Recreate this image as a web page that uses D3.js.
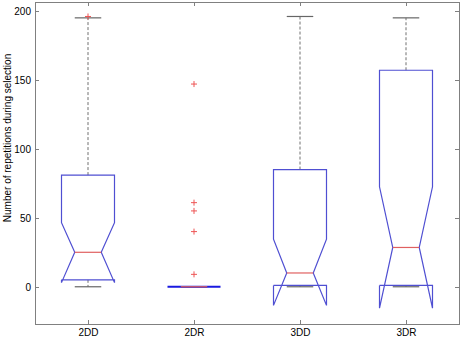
<!DOCTYPE html>
<html>
<head>
  <meta charset="UTF-8">
  <script src="https://cdn.jsdelivr.net/npm/d3@7"></script>
  <style>
      * { box-sizing: border-box; }
      html, body { margin: 0; padding: 0; background: #fff; }
      text { font-family: "Liberation Sans", Arial, sans-serif; font-size: 10px; fill: #000; }
      .frame { fill: none; stroke: #808080; stroke-width: 1px; }
      .box { fill: none; stroke: #4f4fd2; stroke-width: 1.2px; }
      .median { stroke: #e06060; stroke-width: 1.2px; }
      .whisker { stroke: #707070; stroke-width: 1px; stroke-dasharray: 3,2; }
      .cap { stroke: #666; stroke-width: 1.2px; }
      .outlier { stroke: #ee5555; stroke-width: 1px; }
  </style>
</head>
<body>
<div id="root"></div>
<script>

  // box statistics
  var categories = ["2DD", "2DR", "3DD", "3DR"];
  var q1 = [5, 0, 1, 1];
  var median = [25, 0, 10, 28.5];
  var q3 = [81, 0, 85, 157];
  var notchLo = [3, 0, -13.5, -15.5];
  var notchHi = [46.5, 0, 34.5, 72.5];
  var whiskerLo = [0, 0, 0, 0];
  var whiskerHi = [195, 0, 196, 195];
  var outliers = [[196], [147, 61, 55, 40, 9], [], []];
  var yTicks = [0, 50, 100, 150, 200];

  var width = 460, height = 339;
  var plot = {left: 35, right: 459, top: 2, bottom: 324};

  var x = d3.scaleLinear().domain([0.5, 4.5]).range([plot.left, plot.right]);
  var y = d3.scaleLinear().domain([-27, 206.5]).range([plot.bottom, plot.top]);

  var svg = d3.select("#root").append("svg")
    .attr("width", width)
    .attr("height", height);

  // axis frame
  svg.append("rect")
    .attr("class", "frame")
    .attr("x", plot.left + 0.5)
    .attr("y", plot.top + 0.5)
    .attr("width", plot.right - plot.left)
    .attr("height", plot.bottom - plot.top);

  // inward ticks on all four sides
  var tickLen = 4;
  yTicks.forEach(function(t) {
    var yy = Math.round(y(t)) + 0.5;
    svg.append("line").attr("class", "frame")
      .attr("x1", plot.left).attr("x2", plot.left + tickLen).attr("y1", yy).attr("y2", yy);
    svg.append("line").attr("class", "frame")
      .attr("x1", plot.right - tickLen).attr("x2", plot.right).attr("y1", yy).attr("y2", yy);
    svg.append("text")
      .attr("x", plot.left - 4)
      .attr("y", yy)
      .attr("dy", "0.35em")
      .attr("text-anchor", "end")
      .text(t);
  });
  categories.forEach(function(c, i) {
    var xx = Math.round(x(i + 1)) + 0.5;
    svg.append("line").attr("class", "frame")
      .attr("x1", xx).attr("x2", xx).attr("y1", plot.bottom - tickLen).attr("y2", plot.bottom);
    svg.append("line").attr("class", "frame")
      .attr("x1", xx).attr("x2", xx).attr("y1", plot.top).attr("y2", plot.top + tickLen);
    svg.append("text")
      .attr("x", xx)
      .attr("y", plot.bottom + 12)
      .attr("text-anchor", "middle")
      .text(c);
  });

  // y axis label
  svg.append("text")
    .attr("transform", "translate(11,138) rotate(-90)")
    .attr("text-anchor", "middle")
    .text("Number of repetitions during selection");

  var boxHalf = 0.25, notchHalf = 0.125, capHalf = 0.125;

  categories.forEach(function(c, i) {
    var cx = i + 1;
    var g = svg.append("g");

    // whiskers
    g.append("line").attr("class", "whisker")
      .attr("x1", x(cx)).attr("x2", x(cx)).attr("y1", y(q3[i])).attr("y2", y(whiskerHi[i]));
    g.append("line").attr("class", "whisker")
      .attr("x1", x(cx)).attr("x2", x(cx)).attr("y1", y(q1[i])).attr("y2", y(whiskerLo[i]));
    [whiskerLo[i], whiskerHi[i]].forEach(function(w) {
      g.append("line").attr("class", "cap")
        .attr("x1", x(cx - capHalf)).attr("x2", x(cx + capHalf))
        .attr("y1", y(w)).attr("y2", y(w));
    });

    // notched box, drawn like matlab does
    var pts = [
      [cx - boxHalf, q1[i]], [cx - boxHalf, notchLo[i]], [cx - notchHalf, median[i]],
      [cx - boxHalf, notchHi[i]], [cx - boxHalf, q3[i]], [cx + boxHalf, q3[i]],
      [cx + boxHalf, notchHi[i]], [cx + notchHalf, median[i]], [cx + boxHalf, notchLo[i]],
      [cx + boxHalf, q1[i]], [cx - boxHalf, q1[i]]
    ];
    // a flat box is drawn over itself several times, so it shows up darker
    var flat = q1[i] === q3[i];
    g.append("path")
      .attr("class", "box")
      .style("stroke", flat ? "#1a1ae0" : null)
      .style("stroke-width", flat ? "2px" : null)
      .attr("d", d3.line().x(function(d) { return x(d[0]); }).y(function(d) { return y(d[1]); })(pts));

    // median
    g.append("line").attr("class", "median")
      .attr("x1", x(cx - notchHalf)).attr("x2", x(cx + notchHalf))
      .attr("y1", y(median[i])).attr("y2", y(median[i]));

    // outliers as red plus signs
    outliers[i].forEach(function(o) {
      var px = x(cx), py = y(o);
      g.append("path").attr("class", "outlier")
        .attr("d", "M" + (px - 3) + "," + py + "H" + (px + 3) + "M" + px + "," + (py - 3) + "V" + (py + 3));
    });
  });

</script>
</body>
</html>
